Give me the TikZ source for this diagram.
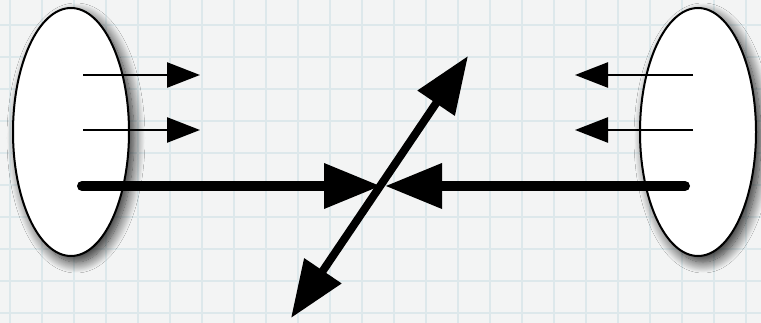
\documentclass[tikz,border=0pt]{standalone}
\usetikzlibrary{shapes.geometric,arrows.meta,shadows.blur}
\definecolor{paper}{HTML}{F3F4F4}
\definecolor{gridc}{HTML}{DDE8EB}
\tikzset{
  blob/.style={ellipse, draw=black, line width=2pt, fill=white, inner sep=0pt,
    minimum width=116pt, minimum height=248pt,
    blur shadow={shadow xshift=5pt, shadow yshift=-6pt, shadow blur radius=11pt, shadow blur steps=16, shadow opacity=85}},
  thin arrow/.style={line width=2.5pt, -{Triangle[length=33pt,width=25pt]}},
  thick arrow/.style={line width=10pt, line cap=round, -{Triangle[length=57pt,width=43pt]}},
  diag arrow/.style={line width=8pt, {Triangle[length=57pt,width=43pt]}-{Triangle[length=57pt,width=43pt]}},
}
\begin{document}
\begin{tikzpicture}[x=1pt,y=-1pt]
\useasboundingbox (0,0) rectangle (761,323);
\fill[paper] (0,0) rectangle (761,323);
\foreach \gx in {10,42,...,761} \draw[gridc, line width=1.8pt] (\gx,0) -- (\gx,323);
\foreach \gy in {25,57,...,323} \draw[gridc, line width=1.8pt] (0,\gy) -- (761,\gy);
\node[blob] (L) at (71,132) {};
\node[blob] (R) at (698,132) {};
% left thin arrows
\coordinate (l1s) at (83,75);  \coordinate (l1e) at (200,75);
\coordinate (l2s) at (83,130); \coordinate (l2e) at (200,130);
\draw[thin arrow] (l1s) -- (l1e);
\draw[thin arrow] (l2s) -- (l2e);
% right thin arrows
\coordinate (r1s) at (693,75);  \coordinate (r1e) at (575,75);
\coordinate (r2s) at (693,130); \coordinate (r2e) at (575,130);
\draw[thin arrow] (r1s) -- (r1e);
\draw[thin arrow] (r2s) -- (r2e);
% thick horizontal arrows
\coordinate (ts) at (82,186); \coordinate (tl) at (381,186);
\coordinate (us) at (685,186); \coordinate (tr) at (385,186);
\draw[thick arrow] (ts) -- (tl);
\draw[thick arrow] (us) -- (tr);
% diagonal double arrow
\coordinate (d1) at (291,318); \coordinate (d2) at (468,56);
\draw[diag arrow] (d1) -- (d2);
\end{tikzpicture}
\end{document}
